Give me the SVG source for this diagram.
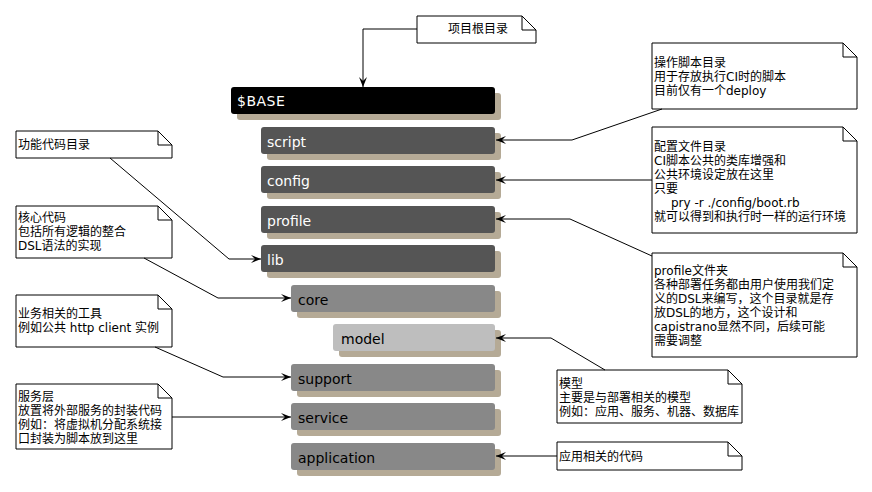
<svg xmlns="http://www.w3.org/2000/svg" width="872" height="492" viewBox="0 0 872 492">
<style>
.shadow{fill:#B5AA96;}
.box{stroke:none;}
.b0{fill:#000000;}
.b1{fill:#555555;}
.b2{fill:#888888;}
.b3{fill:#BEBEBE;}
.lbl{font-family:"DejaVu Sans",sans-serif;font-size:14px;}
.lw{fill:#FFFFFF;}
.lk{fill:#000000;}
.note{fill:#FFFFFF;stroke:#000000;stroke-width:1;}
.fold{fill:none;stroke:#000000;stroke-width:1;}
.nt{font-family:"DejaVu Sans","Noto Sans CJK SC",sans-serif;font-size:12px;fill:#000000;}
.conn{fill:none;stroke:#000000;stroke-width:1;marker-end:url(#arr);}
</style>
<defs>
<marker id="arr" markerUnits="userSpaceOnUse" markerWidth="12" markerHeight="10" refX="10" refY="4" orient="auto">
<path d="M0,0 L10,4 L0,8 L4,4 Z" fill="#000000"/>
</marker>
</defs>
<rect width="872" height="492" fill="#FFFFFF"/>

<g id="base"><rect class="shadow" x="237" y="93" width="264" height="27" rx="3"/><rect class="box b0" x="231" y="87" width="264" height="27" rx="3"/><text class="lbl lw" x="237" y="106" letter-spacing="0.5">$BASE</text></g>
<g id="script"><rect class="shadow" x="267" y="133" width="234" height="27" rx="3"/><rect class="box b1" x="261" y="127" width="234" height="27" rx="3"/><text class="lbl lw" x="267" y="147">script</text></g>
<g id="config"><rect class="shadow" x="267" y="172" width="234" height="27" rx="3"/><rect class="box b1" x="261" y="166" width="234" height="27" rx="3"/><text class="lbl lw" x="267" y="186">config</text></g>
<g id="profile"><rect class="shadow" x="267" y="212" width="234" height="27" rx="3"/><rect class="box b1" x="261" y="206" width="234" height="27" rx="3"/><text class="lbl lw" x="267" y="226">profile</text></g>
<g id="lib"><rect class="shadow" x="267" y="251" width="234" height="27" rx="3"/><rect class="box b1" x="261" y="245" width="234" height="27" rx="3"/><text class="lbl lw" x="267" y="265">lib</text></g>
<g id="core"><rect class="shadow" x="297" y="291" width="204" height="27" rx="3"/><rect class="box b2" x="291" y="285" width="204" height="27" rx="3"/><text class="lbl lk" x="298" y="305">core</text></g>
<g id="model"><rect class="shadow" x="339" y="330" width="162" height="27" rx="3"/><rect class="box b3" x="333" y="324" width="162" height="27" rx="3"/><text class="lbl lk" x="341" y="344">model</text></g>
<g id="support"><rect class="shadow" x="297" y="370" width="204" height="27" rx="3"/><rect class="box b2" x="291" y="364" width="204" height="27" rx="3"/><text class="lbl lk" x="298" y="384">support</text></g>
<g id="service"><rect class="shadow" x="297" y="409" width="204" height="27" rx="3"/><rect class="box b2" x="291" y="403" width="204" height="27" rx="3"/><text class="lbl lk" x="298" y="423">service</text></g>
<g id="application"><rect class="shadow" x="297" y="449" width="204" height="27" rx="3"/><rect class="box b2" x="291" y="443" width="204" height="27" rx="3"/><text class="lbl lk" x="298" y="463">application</text></g>

<g id="note-root"><path class="note" d="M417,16 H522 L536,30 V43 H417 Z"/><path class="fold" d="M522,16 V30 H536"/><text class="nt" x="448" y="33">项目根目录</text></g>
<g id="note-script"><path class="note" d="M652,43 H843 L857,57 V109 H652 Z"/><path class="fold" d="M843,43 V57 H857"/><text class="nt"><tspan x="654" y="67">操作脚本目录</tspan><tspan x="654" y="81">用于存放执行CI时的脚本</tspan><tspan x="654" y="95">目前仅有一个deploy</tspan></text></g>
<g id="note-config"><path class="note" d="M652,127 H843 L857,141 V233 H652 Z"/><path class="fold" d="M843,127 V141 H857"/><text class="nt"><tspan x="654" y="151">配置文件目录</tspan><tspan x="654" y="165">CI脚本公共的类库增强和</tspan><tspan x="654" y="179">公共环境设定放在这里</tspan><tspan x="654" y="193">只要</tspan><tspan x="671" y="207">pry -r ./config/boot.rb</tspan><tspan x="654" y="221">就可以得到和执行时一样的运行环境</tspan></text></g>
<g id="note-profile"><path class="note" d="M652,253 H843 L857,267 V357 H652 Z"/><path class="fold" d="M843,253 V267 H857"/><text class="nt"><tspan x="654" y="275">profile文件夹</tspan><tspan x="654" y="289">各种部署任务都由用户使用我们定</tspan><tspan x="654" y="303">义的DSL来编写，这个目录就是存</tspan><tspan x="654" y="317">放DSL的地方，这个设计和</tspan><tspan x="654" y="331">capistrano显然不同，后续可能</tspan><tspan x="654" y="345">需要调整</tspan></text></g>
<g id="note-model"><path class="note" d="M557,370 H728 L742,384 V423 H557 Z"/><path class="fold" d="M728,370 V384 H742"/><text class="nt"><tspan x="559" y="388">模型</tspan><tspan x="559" y="402">主要是与部署相关的模型</tspan><tspan x="559" y="416">例如：应用、服务、机器、数据库</tspan></text></g>
<g id="note-application"><path class="note" d="M557,442 H728 L742,456 V470 H557 Z"/><path class="fold" d="M728,442 V456 H742"/><text class="nt" x="559" y="461">应用相关的代码</text></g>
<g id="note-lib"><path class="note" d="M16,131 H158 L172,145 V158 H16 Z"/><path class="fold" d="M158,131 V145 H172"/><text class="nt" x="18" y="149">功能代码目录</text></g>
<g id="note-core"><path class="note" d="M16,206 H158 L172,220 V258 H16 Z"/><path class="fold" d="M158,206 V220 H172"/><text class="nt"><tspan x="18" y="222">核心代码</tspan><tspan x="18" y="236">包括所有逻辑的整合</tspan><tspan x="18" y="250">DSL语法的实现</tspan></text></g>
<g id="note-support"><path class="note" d="M16,295 H158 L172,309 V347 H16 Z"/><path class="fold" d="M158,295 V309 H172"/><text class="nt"><tspan x="18" y="318">业务相关的工具</tspan><tspan x="18" y="332">例如公共 http client 实例</tspan></text></g>
<g id="note-service"><path class="note" d="M16,384 H158 L172,398 V449 H16 Z"/><path class="fold" d="M158,384 V398 H172"/><text class="nt"><tspan x="18" y="401">服务层</tspan><tspan x="18" y="415">放置将外部服务的封装代码</tspan><tspan x="18" y="429">例如：将虚拟机分配系统接</tspan><tspan x="18" y="443">口封装为脚本放到这里</tspan></text></g>

<g id="connectors">
<path class="conn" d="M417,29 H363 V87"/>
<path class="conn" d="M662,109 L572,140 H496"/>
<path class="conn" d="M652,180 H496"/>
<path class="conn" d="M652,256 L570,219 H496"/>
<path class="conn" d="M110,158 L229,259 H261"/>
<path class="conn" d="M144,258 L218,298 H291"/>
<path class="conn" d="M605,370 L551,338 H496"/>
<path class="conn" d="M155,347 L223,377 H291"/>
<path class="conn" d="M172,417 H291"/>
<path class="conn" d="M557,456 H496"/>
</g>
</svg>
